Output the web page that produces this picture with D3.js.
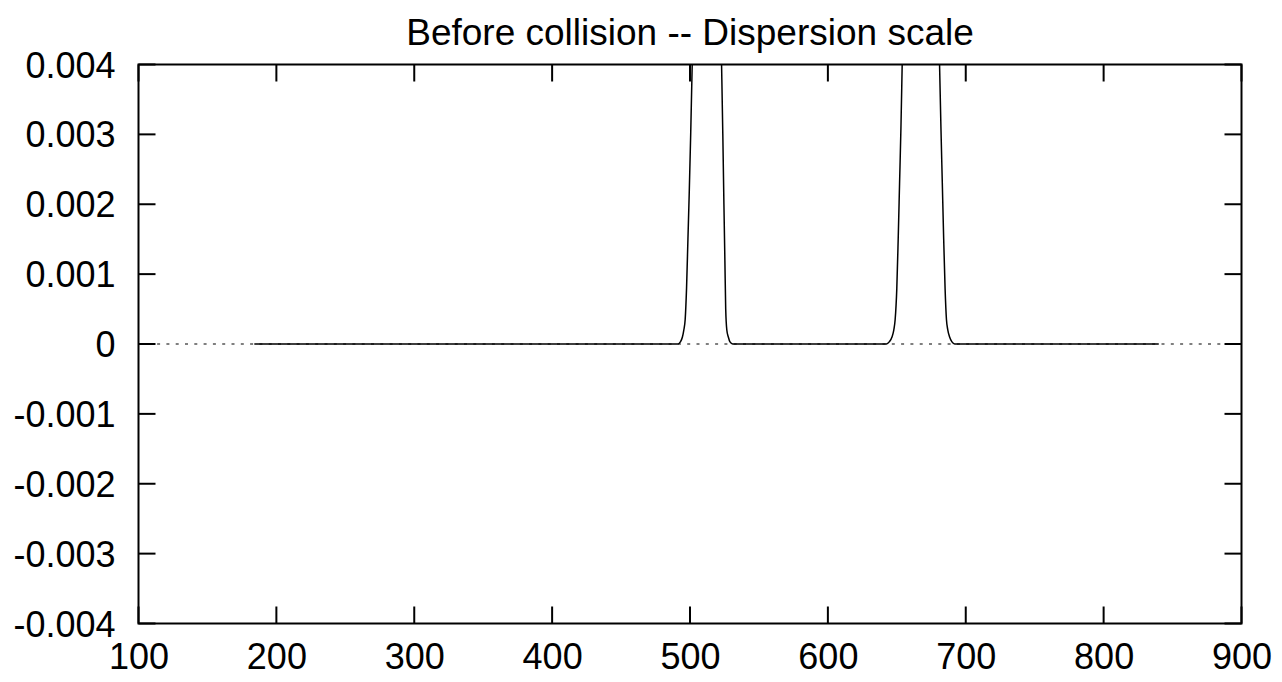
<!DOCTYPE html>
<html><head><meta charset="utf-8">
<script src="https://cdn.jsdelivr.net/npm/d3@7"></script>
<style>body{margin:0;background:#fff}svg{display:block}</style>
</head><body>
<svg id="c" width="1282" height="682"></svg>
<script>
const titleText = "Before collision -- Dispersion scale";
const xTicks = [100,200,300,400,500,600,700,800,900];
const yTicks = [-0.004,-0.003,-0.002,-0.001,0,0.001,0.002,0.003,0.004];
const xs = [184,300,400,480,491.5,493,494.5,495.5,496.5,497.5,498.5,499.5,500.5,501.6,504,512,520,522.9,523.8,524.6,525.3,525.9,526.7,527.8,529,531,560,600,642.5,644.5,646.5,647.8,648.8,650,651,652,653,653.9,657,667.5,678,681,682,683,684,685,686,687,688.3,690,692,750,840];
const ys = [0,0,0,0,0,0.00003,0.0001,0.0002,0.00035,0.0008,0.0015,0.0022,0.003,0.004,0.007,0.015,0.007,0.004,0.003,0.002,0.0012,0.0005,0.0002,0.0001,0.00003,0,0,0,0,0.00003,0.0001,0.0002,0.00035,0.0008,0.0015,0.0023,0.0031,0.004,0.007,0.013,0.007,0.004,0.0031,0.0023,0.0015,0.0008,0.00035,0.0002,0.0001,0.00003,0,0,0];

const L=138.5,R=1241.5,T=64.5,B=623.5;
const svg=d3.select("#c");
const x=d3.scaleLinear().domain([100,900]).range([L,R]);
const y=d3.scaleLinear().domain([-0.004,0.004]).range([B,T]);
const font="Liberation Sans, Arial, sans-serif", fs=36;

svg.append("defs").append("clipPath").attr("id","clip").append("rect")
  .attr("x",L).attr("y",T).attr("width",R-L).attr("height",B-T);

svg.append("line").attr("x1",L).attr("x2",R).attr("y1",y(0)).attr("y2",y(0))
  .attr("stroke","#000").attr("stroke-width",1.2).attr("stroke-dasharray","3,6.3");

const pts=xs.map((v,i)=>[v,ys[i]]);
svg.append("path").datum(pts).attr("clip-path","url(#clip)")
  .attr("fill","none").attr("stroke","#000").attr("stroke-width",1.5)
  .attr("d",d3.line().x(d=>x(d[0])).y(d=>y(d[1])).curve(d3.curveMonotoneX));

const tl=17;
const g=svg.append("g").attr("stroke","#000").attr("stroke-width",2);
xTicks.forEach(t=>{
  g.append("line").attr("x1",x(t)).attr("x2",x(t)).attr("y1",B).attr("y2",B-tl);
  g.append("line").attr("x1",x(t)).attr("x2",x(t)).attr("y1",T).attr("y2",T+tl);
});
yTicks.forEach(t=>{
  g.append("line").attr("x1",L).attr("x2",L+tl).attr("y1",y(t)).attr("y2",y(t));
  g.append("line").attr("x1",R).attr("x2",R-tl).attr("y1",y(t)).attr("y2",y(t));
});
svg.append("rect").attr("x",L).attr("y",T).attr("width",R-L).attr("height",B-T)
  .attr("fill","none").attr("stroke","#000").attr("stroke-width",2);

const xa=d3.axisBottom(x).tickValues(xTicks).tickSize(0).tickFormat(d3.format("d"));
const xg=svg.append("g").attr("transform",`translate(0,${B})`).call(xa);
xg.select(".domain").remove();
xg.selectAll("text").attr("font-family",font).attr("font-size",fs).attr("fill","#000")
  .attr("dy",null).attr("y",45);

const ya=d3.axisLeft(y).tickValues(yTicks).tickSize(0)
  .tickFormat(d=>d===0?"0":(d<0?"-":"")+Math.abs(d).toFixed(3));
const yg=svg.append("g").attr("transform",`translate(${L},0)`).call(ya);
yg.select(".domain").remove();
yg.selectAll("text").attr("font-family",font).attr("font-size",fs).attr("fill","#000")
  .attr("x",-23).attr("dy","0.35em");

svg.append("text").attr("x",(L+R)/2).attr("y",45).attr("text-anchor","middle")
  .attr("font-family",font).attr("font-size",37).attr("fill","#000").text(titleText);
</script>
</body></html>
